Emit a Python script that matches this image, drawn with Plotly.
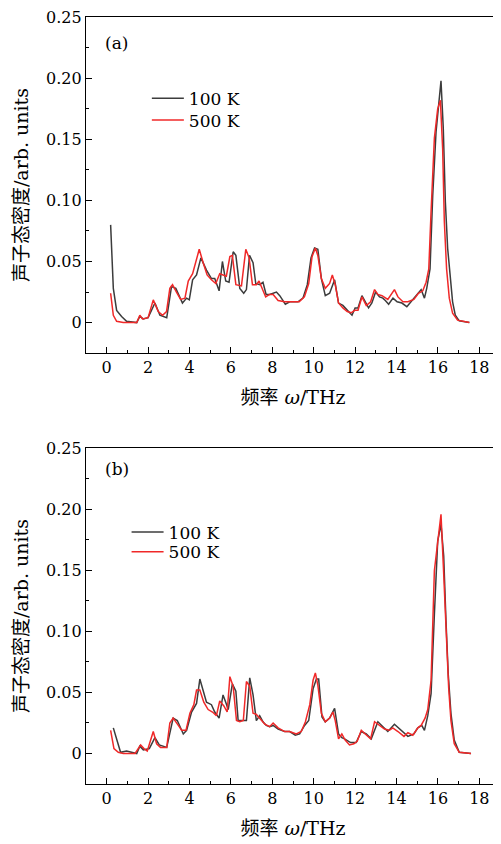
import plotly.graph_objects as go

# ---------------- data ----------------
xticks = [0, 2, 4, 6, 8, 10, 12, 14, 16, 18]
yticks = [0, 0.05, 0.10, 0.15, 0.20, 0.25]
ytick_text = ["0", "0.05", "0.10", "0.15", "0.20", "0.25"]
series_names = ["100 K", "500 K"]
panel_labels = ["(a)", "(b)"]

a100_x = [0.19, 0.32, 0.48, 0.72, 0.96, 1.45, 1.6, 1.77, 2.0, 2.33, 2.57, 2.9, 3.13, 3.34, 3.66, 3.86, 3.99,
          4.15, 4.34, 4.55, 4.82, 5.06, 5.22, 5.43, 5.59, 5.75, 5.91, 6.11, 6.24, 6.43, 6.62, 6.75, 6.9, 7.07,
          7.2, 7.4, 7.55, 7.7, 7.87, 8.2, 8.36, 8.63, 8.84, 9.24, 9.48, 9.69, 9.87, 10.04, 10.2, 10.37, 10.56,
          10.77, 11.01, 11.2, 11.41, 11.62, 11.85, 12.0, 12.14, 12.33, 12.49, 12.65, 12.81, 12.99, 13.18, 13.34,
          13.46, 13.62, 13.83, 14.03, 14.26, 14.5, 14.7, 15.0, 15.19, 15.35, 15.46, 15.62, 15.75, 15.91, 16.04,
          16.15, 16.26, 16.36, 16.47, 16.59, 16.71, 16.84, 17.03, 17.52]
a100_y = [0.080, 0.028, 0.010, 0.005, 0.001, 0.0, 0.005, 0.003, 0.004, 0.016, 0.006, 0.004, 0.0295, 0.028,
          0.016, 0.020, 0.0186, 0.035, 0.039, 0.053, 0.043, 0.036, 0.036, 0.026, 0.050, 0.034, 0.033, 0.058,
          0.055, 0.028, 0.024, 0.027, 0.055, 0.049, 0.032, 0.031, 0.033, 0.023, 0.023, 0.025, 0.022, 0.015,
          0.017, 0.017, 0.020, 0.031, 0.053, 0.061, 0.060, 0.036, 0.022, 0.024, 0.035, 0.016, 0.014, 0.010,
          0.006, 0.012, 0.012, 0.022, 0.017, 0.012, 0.016, 0.025, 0.021, 0.020, 0.018, 0.015, 0.020, 0.017,
          0.016, 0.013, 0.017, 0.023, 0.027, 0.020, 0.028, 0.044, 0.104, 0.156, 0.181, 0.198, 0.159, 0.099,
          0.061, 0.036, 0.017, 0.006, 0.0014, 0.0]

a500_x = [0.19, 0.32, 0.48, 0.8, 1.45, 1.6, 1.73, 2.0, 2.25, 2.49, 2.7, 2.89, 3.05, 3.18, 3.37, 3.57, 3.78,
          3.94, 4.15, 4.31, 4.47, 4.66, 4.85, 5.06, 5.27, 5.46, 5.66, 5.78, 5.95, 6.07, 6.24, 6.51, 6.72, 6.88,
          7.04, 7.23, 7.36, 7.52, 7.68, 7.87, 8.04, 8.28, 8.6, 8.9, 9.3, 9.55, 9.76, 9.92, 10.08, 10.2, 10.37,
          10.56, 10.77, 10.9, 11.04, 11.2, 11.41, 11.62, 11.81, 11.98, 12.14, 12.33, 12.54, 12.75, 12.94, 13.1,
          13.3, 13.58, 13.9, 14.07, 14.31, 14.55, 14.84, 15.06, 15.27, 15.43, 15.56, 15.67, 15.83, 15.99, 16.12,
          16.23, 16.31, 16.42, 16.55, 16.71, 16.95, 17.52]
a500_y = [0.024, 0.006, 0.001, 0.0, 0.0, 0.006, 0.003, 0.004, 0.0186, 0.009, 0.006, 0.009, 0.028, 0.031,
          0.025, 0.019, 0.020, 0.034, 0.040, 0.050, 0.060, 0.049, 0.039, 0.035, 0.032, 0.040, 0.039, 0.038,
          0.054, 0.055, 0.031, 0.030, 0.060, 0.053, 0.031, 0.031, 0.034, 0.028, 0.021, 0.023, 0.023, 0.018,
          0.017, 0.017, 0.017, 0.021, 0.032, 0.054, 0.061, 0.055, 0.036, 0.028, 0.032, 0.039, 0.031, 0.016,
          0.012, 0.009, 0.008, 0.010, 0.010, 0.021, 0.014, 0.017, 0.027, 0.023, 0.022, 0.019, 0.027, 0.021,
          0.017, 0.017, 0.019, 0.024, 0.026, 0.033, 0.044, 0.091, 0.151, 0.175, 0.182, 0.142, 0.083, 0.044,
          0.020, 0.0076, 0.002, 0.0]

b100_x = [0.32, 0.48, 0.67, 0.96, 1.2, 1.45, 1.6, 1.77, 2.06, 2.33, 2.54, 2.9, 3.21, 3.41, 3.7, 3.86, 4.1,
          4.34, 4.5, 4.82, 5.06, 5.22, 5.43, 5.62, 5.75, 5.87, 6.07, 6.24, 6.35, 6.59, 6.75, 6.91, 7.07, 7.23,
          7.39, 7.55, 7.71, 7.87, 8.04, 8.28, 8.6, 8.84, 9.11, 9.32, 9.56, 9.76, 9.97, 10.13, 10.24, 10.4, 10.56,
          10.77, 11.01, 11.2, 11.36, 11.49, 11.78, 12.05, 12.3, 12.54, 12.78, 13.1, 13.34, 13.58, 13.9, 14.14,
          14.55, 14.84, 15.03, 15.22, 15.35, 15.51, 15.67, 15.83, 15.99, 16.15, 16.28, 16.39, 16.5, 16.63,
          16.79, 17.03, 17.6]
b100_y = [0.021, 0.011, 0.001, 0.002, 0.001, 0.0, 0.006, 0.003, 0.004, 0.013, 0.007, 0.005, 0.029, 0.027,
          0.016, 0.019, 0.034, 0.041, 0.061, 0.042, 0.040, 0.034, 0.029, 0.048, 0.042, 0.036, 0.057, 0.051,
          0.027, 0.027, 0.027, 0.062, 0.048, 0.027, 0.031, 0.026, 0.023, 0.022, 0.023, 0.020, 0.018, 0.018,
          0.015, 0.016, 0.023, 0.027, 0.053, 0.061, 0.061, 0.030, 0.026, 0.029, 0.037, 0.016, 0.013, 0.012,
          0.009, 0.009, 0.018, 0.016, 0.012, 0.026, 0.022, 0.018, 0.024, 0.020, 0.014, 0.016, 0.021, 0.023,
          0.019, 0.031, 0.049, 0.114, 0.174, 0.188, 0.162, 0.109, 0.065, 0.033, 0.011, 0.001, 0.0]

b500_x = [0.19, 0.35, 0.56, 0.8, 1.37, 1.64, 1.8, 1.96, 2.25, 2.41, 2.6, 2.9, 3.05, 3.21, 3.46, 3.62, 3.83,
          4.02, 4.21, 4.34, 4.5, 4.69, 4.9, 5.11, 5.3, 5.46, 5.66, 5.82, 5.95, 6.11, 6.27, 6.43, 6.6, 6.75, 6.91,
          7.07, 7.23, 7.39, 7.64, 7.87, 8.04, 8.28, 8.6, 8.84, 9.16, 9.4, 9.6, 9.81, 9.97, 10.08, 10.2, 10.37,
          10.56, 10.77, 10.93, 11.04, 11.2, 11.36, 11.52, 11.73, 11.94, 12.1, 12.3, 12.49, 12.75, 12.94, 13.18,
          13.42, 13.66, 13.82, 14.07, 14.36, 14.55, 14.79, 15.03, 15.19, 15.38, 15.51, 15.67, 15.83, 15.99,
          16.15, 16.26, 16.39, 16.52, 16.63, 16.79, 17.03, 17.6]
b500_y = [0.019, 0.004, 0.001, 0.0, 0.0, 0.007, 0.004, 0.002, 0.018, 0.008, 0.005, 0.005, 0.025, 0.029,
          0.023, 0.019, 0.019, 0.033, 0.040, 0.052, 0.052, 0.042, 0.036, 0.034, 0.031, 0.043, 0.039, 0.034,
          0.063, 0.055, 0.027, 0.026, 0.027, 0.059, 0.055, 0.033, 0.032, 0.029, 0.024, 0.022, 0.025, 0.021,
          0.018, 0.018, 0.016, 0.018, 0.026, 0.040, 0.060, 0.066, 0.056, 0.033, 0.026, 0.029, 0.034, 0.027,
          0.012, 0.016, 0.011, 0.007, 0.008, 0.010, 0.019, 0.016, 0.012, 0.026, 0.023, 0.020, 0.019, 0.021,
          0.018, 0.014, 0.017, 0.015, 0.021, 0.023, 0.029, 0.036, 0.060, 0.150, 0.173, 0.196, 0.155, 0.101,
          0.054, 0.027, 0.008, 0.001, 0.0]

# ---------------- figure ----------------
FONT = "DejaVu Serif, Noto Sans CJK SC, serif"
C100 = "#3c3c3c"
C500 = "#f02828"

fig = go.Figure()
panels = [(a100_x, a100_y, a500_x, a500_y, "x", "y", "legend", "legend2"),
          (b100_x, b100_y, b500_x, b500_y, "x2", "y2", "legend3", "legend4")]
for x1, y1, x2, y2, xa, ya, lg1, lg2 in panels:
    fig.add_trace(go.Scatter(x=x1, y=y1, mode="lines", name=series_names[0], xaxis=xa, yaxis=ya,
                             legend=lg1, showlegend=True, line=dict(color=C100, width=1.5)))
    fig.add_trace(go.Scatter(x=x2, y=y2, mode="lines", name=series_names[1], xaxis=xa, yaxis=ya,
                             legend=lg2, showlegend=True, line=dict(color=C500, width=1.5)))

xcommon = dict(range=[-1, 19], tickvals=xticks, ticks="inside", ticklen=6, tickwidth=1,
               tickcolor="black", showline=True, linecolor="black", linewidth=1.2, mirror=True,
               showgrid=False, zeroline=False, tickfont=dict(family=FONT, size=16, color="black"),
               minor=dict(dtick=1, tick0=0, ticks="inside", ticklen=3, tickcolor="black"),
               title=dict(text="频率 <i>ω</i>/THz", font=dict(family=FONT, size=19, color="black"),
                          standoff=14))
ycommon = dict(range=[-0.025, 0.2502], tickvals=yticks, ticktext=ytick_text, ticks="inside", ticklen=6,
               tickwidth=1, tickcolor="black", showline=True, linecolor="black", linewidth=1.2,
               mirror=True, showgrid=False, zeroline=False, ticklabeloverflow="allow",
               tickfont=dict(family=FONT, size=16, color="black"),
               minor=dict(dtick=0.025, tick0=0, ticks="inside", ticklen=3, tickcolor="black"),
               title=dict(text="声子态密度/arb. units", font=dict(family=FONT, size=19, color="black"),
                          standoff=12))


def one_legend(x, y):
    return dict(x=x, y=y, xanchor="left", yanchor="middle", bgcolor="rgba(0,0,0,0)",
                font=dict(family=FONT, size=17, color="black"), itemwidth=32, visible=True)


# the page body adds an 8px offset, so the figure is sized to sit the axes where the reference has them
fig.update_layout(
    width=493, height=836,
    margin=dict(l=78, r=0, t=7, b=60),
    showlegend=True,
    paper_bgcolor="white", plot_bgcolor="white",
    font=dict(family=FONT, color="black"),
    xaxis=dict(domain=[0, 1], anchor="y", **xcommon),
    yaxis=dict(domain=[0.5618, 1], anchor="x", **ycommon),
    xaxis2=dict(domain=[0, 1], anchor="y2", **xcommon),
    yaxis2=dict(domain=[0, 0.4378], anchor="x2", **ycommon),
    legend=one_legend(0.147, 0.8935),
    legend2=one_legend(0.147, 0.8650),
    legend3=one_legend(0.098, 0.3281),
    legend4=one_legend(0.098, 0.3021),
    annotations=[
        dict(text=panel_labels[0], xref="x domain", yref="y domain", x=0.04, y=0.923,
             xanchor="left", yanchor="middle", showarrow=False,
             font=dict(family=FONT, size=17, color="black")),
        dict(text=panel_labels[1], xref="x2 domain", yref="y2 domain", x=0.04, y=0.938,
             xanchor="left", yanchor="middle", showarrow=False,
             font=dict(family=FONT, size=17, color="black")),
    ],
)

fig.write_html("out.html")
